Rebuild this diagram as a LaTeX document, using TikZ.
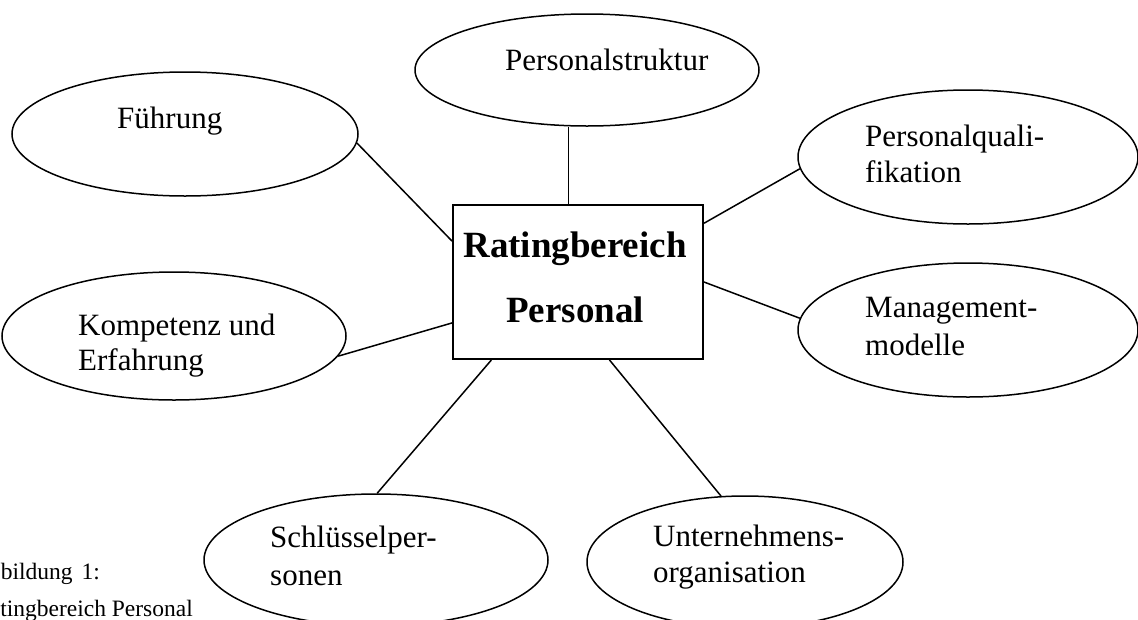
\documentclass[tikz,border=0pt]{standalone}
\usepackage{fontspec}
\setmainfont{Liberation Serif}
\usetikzlibrary{shapes.geometric}
\begin{document}
\begin{tikzpicture}[x=1pt,y=-1pt,
  bubble/.style={draw, ellipse, line width=1.5pt, inner sep=0pt},
  centerbox/.style={draw, rectangle, line width=2pt, inner sep=0pt, minimum width=250pt, minimum height=154pt},
  lbl/.style={anchor=base west, inner sep=0pt, font=\fontsize{31}{37}\selectfont},
  boldlbl/.style={anchor=base, inner sep=0pt, font=\fontsize{37}{44}\selectfont\bfseries},
  caption/.style={anchor=base west, inner sep=0pt, font=\fontsize{23.5}{28}\selectfont},
  conn/.style={line width=1.5pt}]
\useasboundingbox (0,0) rectangle (1138,619);
\clip (0,0) rectangle (1138,619);

% central box
\node[centerbox] (box) at (578,282) {};
\node[boldlbl] (t1) at (575,257) {Ratingbereich};
\node[boldlbl] (t2) at (575,322) {Personal};

% ellipses
\node[bubble, minimum width=346pt, minimum height=124pt] (fuehrung) at (185,134) {};
\node[bubble, minimum width=344pt, minimum height=112pt] (pstruk) at (587,70) {};
\node[bubble, minimum width=340pt, minimum height=134pt] (pqual) at (968,157) {};
\node[bubble, minimum width=340pt, minimum height=134pt] (mgmt) at (968,330) {};
\node[bubble, minimum width=344pt, minimum height=128pt] (kompetenz) at (174,336) {};
\node[bubble, minimum width=344pt, minimum height=132pt] (schl) at (376,560) {};
\node[bubble, minimum width=316pt, minimum height=132pt] (untern) at (745,562) {};

% labels
\node[lbl] (l1) at (505,70) {Personalstruktur};
\node[lbl] (l2) at (117,128) {Führung};
\node[lbl] (l3a) at (865,146) {Personalquali-};
\node[lbl] (l3b) at (865,182) {fikation};
\node[lbl] (l4a) at (865,317) {Management-};
\node[lbl] (l4b) at (865,355) {modelle};
\node[lbl] (l5a) at (78,335) {Kompetenz und};
\node[lbl] (l5b) at (78,370) {Erfahrung};
\node[lbl] (l6a) at (270,547) {Schlüsselper-};
\node[lbl] (l6b) at (270,585) {sonen};
\node[lbl] (l7a) at (653,546) {Unternehmens-};
\node[lbl] (l7b) at (653,582) {organisation};

% caption (cut at the left border)
\node[caption] (c1) at (-28,579) {Abbildung\hspace{9pt}1:};
\node[caption] (c2) at (-26,616) {Ratingbereich Personal};

% connectors
\draw[conn] (fuehrung.-3.7) -- (box.162.7);
\draw[conn] (kompetenz.-7) -- (box.-162.3);
\draw[conn] (box.97.4) -- (box.97.4 |- pstruk.south);
\draw[conn] (box.25.3) -- (pqual.-176.6);
\draw[conn] (box.-0.5) -- (mgmt.176);
\draw[conn] (box.-138.2) -- (schl.89);
\draw[conn] (box.-68.7) -- (untern.110);
\end{tikzpicture}
\end{document}
